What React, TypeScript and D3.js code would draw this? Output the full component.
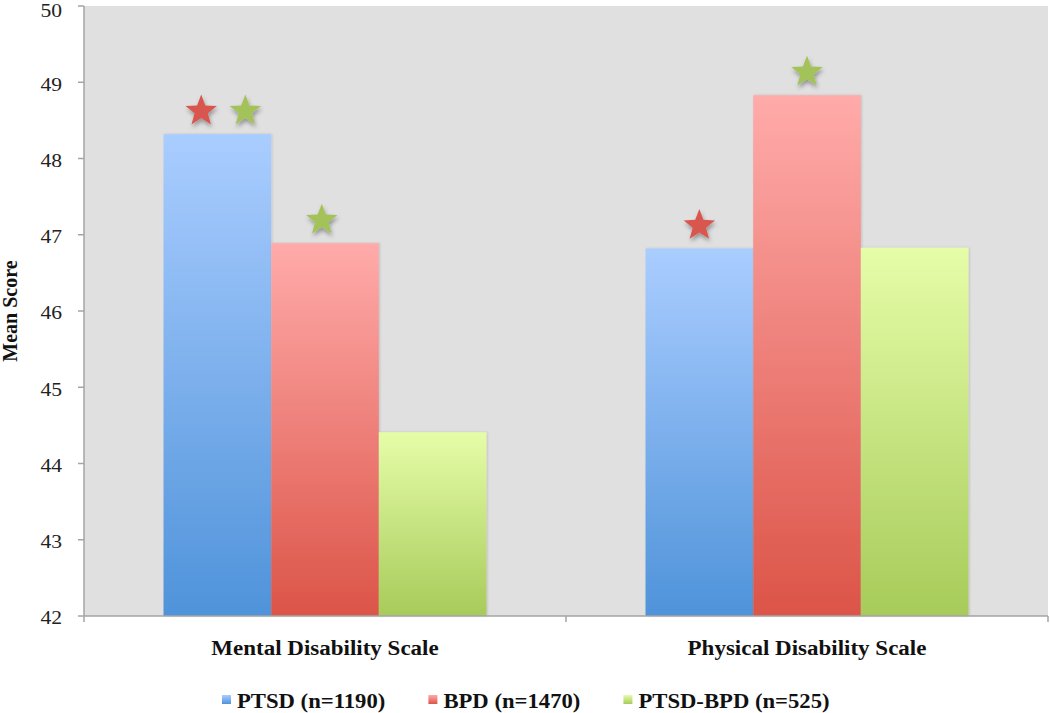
import React from "react";
import * as d3 from "d3";

const categories = ["Mental Disability Scale", "Physical Disability Scale"];
const seriesNames = ["PTSD (n=1190)", "BPD (n=1470)", "PTSD-BPD (n=525)"];
const ptsdValues = [48.32, 46.82];
const bpdValues = [46.89, 48.83];
const comboValues = [44.41, 46.83];
const yTicks = [42, 43, 44, 45, 46, 47, 48, 49, 50];
// star annotations: category index, series index, star colour index, x offset in bar widths
const starCategory = [0, 0, 0, 1, 1];
const starSeries = [0, 0, 1, 0, 1];
const starColor = [1, 2, 2, 1, 2];
const starShift = [-0.15, 0.26, -0.03, 0, 0];

const W = 1050, H = 713;
const left = 84, right = 1048, top = 6, bottom = 616;

const gradTop = ["#aacdff", "#ffabaa", "#e6fda8"];
const gradBot = ["#4f93da", "#dc5448", "#a7cb5a"];
const starFill = ["#5096db", "#d8564d", "#a3c25a"];

const FONT = "'Liberation Serif', 'Times New Roman', serif";

function starPath(cx: number, cy: number, R: number, r: number) {
  const pts: [number, number][] = [];
  for (let i = 0; i < 10; i++) {
    const a = -Math.PI / 2 + (i * Math.PI) / 5;
    const rad = i % 2 === 0 ? R : r;
    pts.push([cx + rad * Math.cos(a), cy + rad * Math.sin(a)]);
  }
  return d3.line()(pts) + "Z";
}

function measure(text: string, size: number): number {
  if (typeof document === "undefined") return text.length * size * 0.5;
  const c = document.createElement("canvas").getContext("2d");
  if (!c) return text.length * size * 0.5;
  c.font = `bold ${size}px ${FONT}`;
  return c.measureText(text).width;
}

export default function App() {
  const values = [ptsdValues, bpdValues, comboValues];
  const x0 = d3.scaleBand<number>().domain([0, 1]).range([left, right]).paddingInner(0.33).paddingOuter(0.165);
  const x1 = d3.scaleBand<number>().domain([0, 1, 2]).range([0, x0.bandwidth()]);
  const y = d3.scaleLinear().domain([42, 50]).range([bottom, top]);

  const legSize = 21, legScale = 1.08;
  const legendX: number[] = [];
  let cur = 222;
  seriesNames.forEach((s) => {
    legendX.push(cur);
    cur += 15 + measure(s, legSize) * legScale + 43;
  });

  return (
    <svg width={W} height={H} style={{ position: "absolute", left: 0, top: 0, background: "#fff" }}>
      <defs>
        {gradTop.map((c, i) => (
          <linearGradient key={i} id={`g${i}`} x1="0" y1="0" x2="0" y2="1">
            <stop offset="0%" stopColor={c} />
            <stop offset="100%" stopColor={gradBot[i]} />
          </linearGradient>
        ))}
        <filter id="sh" x="-50%" y="-50%" width="200%" height="200%">
          <feDropShadow dx="1" dy="3" stdDeviation="2" floodColor="#000" floodOpacity="0.35" />
        </filter>
        <filter id="bsh" x="-10%" y="-10%" width="120%" height="120%">
          <feDropShadow dx="1" dy="0" stdDeviation="1" floodColor="#000" floodOpacity="0.15" />
        </filter>
      </defs>
      <rect x={left} y={top} width={right - left} height={bottom - top} fill="#e0e0e0" />
      {categories.map((_, ci) =>
        values.map((vals, si) => (
          <rect
            key={`${ci}-${si}`}
            x={(x0(ci) as number) + (x1(si) as number)}
            y={y(vals[ci])}
            width={x1.bandwidth()}
            height={bottom - y(vals[ci])}
            fill={`url(#g${si})`}
            filter="url(#bsh)"
          />
        ))
      )}
      {starCategory.map((ci, k) => {
        const si = starSeries[k];
        const cx = (x0(ci) as number) + (x1(si) as number) + x1.bandwidth() * (0.5 + starShift[k]);
        const cy = y(values[si][ci]) - 23;
        return <path key={k} d={starPath(cx, cy, 16.5, 7)} fill={starFill[starColor[k]]} filter="url(#sh)" />;
      })}
      <line x1={left} x2={left} y1={top} y2={bottom} stroke="#a4a4a4" strokeWidth={1.5} />
      <line x1={left} x2={right} y1={bottom} y2={bottom} stroke="#a4a4a4" strokeWidth={1.5} />
      {yTicks.map((t) => (
        <g key={t}>
          <line x1={left - 6} x2={left} y1={y(t)} y2={y(t)} stroke="#a4a4a4" strokeWidth={1.5} />
          <text
            transform={`translate(62,${Math.max(y(t) + 2, 11)}) scale(1.2,1)`}
            dy="0.35em"
            textAnchor="end"
            fontFamily={FONT}
            fontSize={18}
            fill="#222"
          >
            {t}
          </text>
        </g>
      ))}
      {[left, (left + right) / 2, right].map((xv, i) => (
        <line key={i} x1={xv} x2={xv} y1={bottom} y2={bottom + 6} stroke="#a4a4a4" strokeWidth={1.5} />
      ))}
      {categories.map((c, ci) => (
        <text
          key={c}
          transform={`translate(${(x0(ci) as number) + x0.bandwidth() / 2},655) scale(1.15,1)`}
          textAnchor="middle"
          fontFamily={FONT}
          fontWeight="bold"
          fontSize={20}
          fill="#111"
        >
          {c}
        </text>
      ))}
      <text
        transform={`translate(17,311) rotate(-90)`}
        textAnchor="middle"
        fontFamily={FONT}
        fontWeight="bold"
        fontSize={20}
        fill="#111"
      >
        Mean Score
      </text>
      {seriesNames.map((s, i) => (
        <g key={s}>
          <rect x={legendX[i]} y={695} width={9} height={9} fill={`url(#g${i})`} />
          <text
            transform={`translate(${legendX[i] + 15},708) scale(${legScale},1)`}
            fontFamily={FONT}
            fontWeight="bold"
            fontSize={legSize}
            fill="#111"
          >
            {s}
          </text>
        </g>
      ))}
    </svg>
  );
}
